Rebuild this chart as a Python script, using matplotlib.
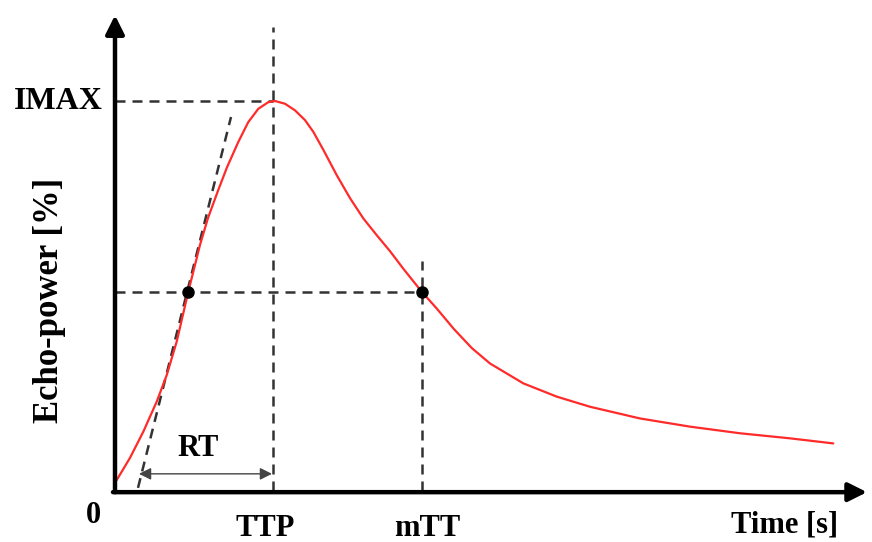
import matplotlib
matplotlib.use("Agg")
import matplotlib.pyplot as plt

# time-intensity curve (time in s, echo-power in % of IMAX)
curve_t = [0.17, 1.5, 2.83, 4.17, 5.17, 6.17, 7.33, 8.5, 9.3, 10.3, 11.2,
           12.33, 13.33, 14.33, 15.33, 16.0, 17.0, 18.0, 19.0, 19.83, 20.83,
           22.17, 23.5, 24.83, 26.17, 27.5, 28.83, 30.67, 32.17, 33.9, 35.7,
           37.5, 40.83, 44.17, 47.5, 52.5, 57.5, 62.5, 67.5, 71.83]
curve_i = [2.8, 8.5, 15.2, 22.9, 29.7, 38.3, 51.1, 63.1, 70.0, 77.0, 83.0,
           89.5, 94.6, 98.0, 99.7, 100.0, 99.3, 97.6, 95.1, 92.1, 87.5,
           81.0, 75.1, 69.9, 65.6, 61.5, 57.0, 51.1, 46.8, 41.5, 36.6,
           32.7, 27.6, 24.2, 21.6, 18.6, 16.5, 14.8, 13.5, 12.2]

t_ttp = 15.8
t_mtt = 30.67
t_rise = 7.33
i_max = 100.0
i_half = 51.1
tangent_t = [2.3, 11.6]
tangent_i = [0.8, 95.9]
rt_start = 2.4
rt_y = 4.4

fig = plt.figure(figsize=(8.72, 5.42), dpi=100)
ax = fig.add_axes([0, 0, 1, 1])
ax.set_xlim(-11.5, 75.7)
ax.set_ylim(-13.08, 125.9)
ax.axis("off")

serif = dict(family="Liberation Serif", fontweight="bold", color="black")
dash = dict(color="#333333", linewidth=1.8, linestyle=(0, (4, 2.8)))

# axes with arrow heads
ax.annotate("", xy=(0, 122), xytext=(0, -0.3),
            arrowprops=dict(arrowstyle="-|>", lw=3.2, color="black",
                            mutation_scale=28, shrinkA=0, shrinkB=0))
ax.annotate("", xy=(75.2, -0.3), xytext=(-0.2, -0.3),
            arrowprops=dict(arrowstyle="-|>", lw=3.2, color="black",
                            mutation_scale=28, shrinkA=0, shrinkB=0))

# guide lines
ax.plot([0, t_ttp], [i_max, i_max], **dash)
ax.plot([t_ttp, t_ttp], [0, 119], **dash)
ax.plot([0, t_mtt], [i_half, i_half], **dash)
ax.plot([t_mtt, t_mtt], [0, 59], **dash)
ax.plot(tangent_t, tangent_i, **dash)

ax.plot(curve_t, curve_i, color="#ff2a2a", linewidth=1.6,
        solid_capstyle="round", solid_joinstyle="round")
ax.plot([t_rise, t_mtt], [i_half, i_half], "o", color="black", markersize=8)

# rise time arrow
ax.annotate("", xy=(t_ttp - 0.1, rt_y), xytext=(rt_start, rt_y),
            arrowprops=dict(arrowstyle="<|-|>", lw=1.0, color="#444444",
                            mutation_scale=18, shrinkA=0, shrinkB=0))
ax.text(8.3, 10.8, "RT", ha="center", va="center", fontsize=22, **serif)

ax.text(-1.2, i_max, "IMAX", ha="right", va="center", fontsize=23, **serif)
ax.text(-2.2, -6.2, "0", ha="center", va="center", fontsize=22, **serif)
ax.text(15.0, -9.6, "TTP", ha="center", va="center", fontsize=22, **serif)
ax.text(31.2, -9.6, "mTT", ha="center", va="center", fontsize=22, **serif)
ax.text(67.0, -8.6, "Time [s]", ha="center", va="center", fontsize=22, **serif)
ax.text(-6.5, 49, "Echo-power [%]", ha="center", va="center", rotation=90,
        fontsize=25, **serif)

fig.savefig("out.png", dpi=100)
